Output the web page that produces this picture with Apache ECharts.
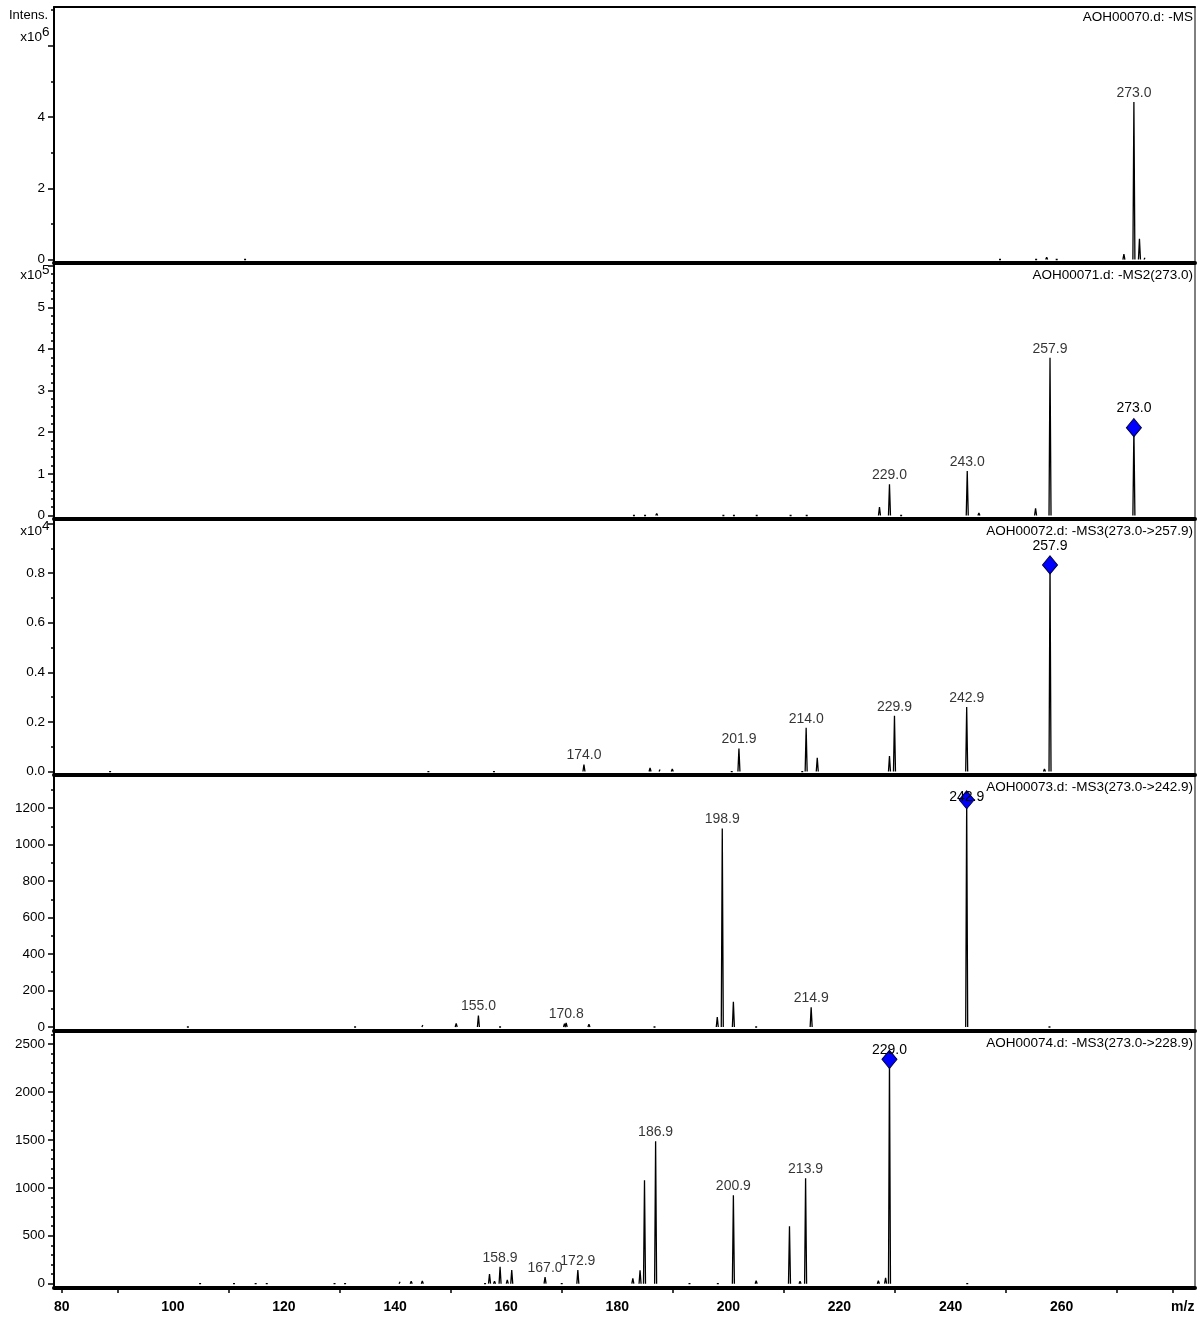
<!DOCTYPE html>
<html>
<head>
<meta charset="utf-8">
<script src="https://cdn.jsdelivr.net/npm/echarts@6/dist/echarts.min.js"></script>
<style>
  html, body { margin: 0; padding: 0; background: #fff; }
  #chart { width: 1200px; height: 1318px; }
</style>
</head>
<body>
<div id="chart"></div>
<script>
// ---- m/z axis ----
const mzRange = [78.6, 284.0];
const mzTickLabels = [80, 100, 120, 140, 160, 180, 200, 220, 240, 260, 280];
const mzTicks = [80, 90, 110, 130, 150, 170, 190, 210, 230, 250, 270, 280];

// ---- AOH00070.d: full scan -MS ----
const ms1Mz  = [113.0, 248.9, 255.4, 257.3, 259.1, 271.2, 273.0, 274.0, 275.0];
const ms1Int = [0.01e6, 0.02e6, 0.04e6, 0.06e6, 0.03e6, 0.15e6, 4.42e6, 0.58e6, 0.05e6];
const ms1Labeled = [273.0];
const ms1Precursor = null;

// ---- AOH00071.d: -MS2(273.0) ----
const ms2Mz  = [183.0, 185.0, 187.1, 199.1, 201.0, 205.1, 211.2, 214.1, 227.2, 229.0, 231.1, 243.0, 245.1, 255.3, 257.9, 273.0];
const ms2Int = [0.02e5, 0.04e5, 0.05e5, 0.02e5, 0.04e5, 0.02e5, 0.04e5, 0.03e5, 0.20e5, 0.75e5, 0.02e5, 1.07e5, 0.06e5, 0.17e5, 3.79e5, 2.11e5];
const ms2Labeled = [229.0, 243.0, 257.9];
const ms2Precursor = 273.0;

// ---- AOH00072.d: -MS3(273.0->257.9) ----
const ms3aMz  = [88.7, 146.0, 157.8, 174.0, 185.9, 187.7, 189.9, 200.6, 201.9, 213.3, 214.0, 216.0, 229.0, 229.9, 242.9, 256.9, 257.9];
const ms3aInt = [0.003e4, 0.003e4, 0.005e4, 0.028e4, 0.014e4, 0.008e4, 0.010e4, 0.004e4, 0.093e4, 0.006e4, 0.176e4, 0.055e4, 0.062e4, 0.225e4, 0.26e4, 0.01e4, 0.833e4];
const ms3aLabeled = [174.0, 201.9, 214.0, 229.9, 242.9];
const ms3aPrecursor = 257.9;

// ---- AOH00073.d: -MS3(273.0->242.9) ----
const ms3bMz  = [102.7, 132.8, 145.0, 151.0, 155.0, 158.9, 170.5, 170.8, 174.9, 186.7, 198.0, 198.9, 200.9, 205.0, 214.9, 242.9, 257.8];
const ms3bInt = [8, 5, 10, 20, 63, 8, 18, 22, 15, 8, 54, 1088, 138, 8, 108, 1245, 6];
const ms3bLabeled = [155.0, 170.8, 198.9, 214.9];
const ms3bPrecursor = 242.9;

// ---- AOH00074.d: -MS3(273.0->228.9) ----
const ms3cMz  = [104.9, 111.0, 114.9, 116.9, 129.1, 131.0, 140.9, 142.9, 144.9, 156.2, 157.0, 157.9, 158.9, 160.2, 161.0, 167.0, 170.0, 172.9, 182.8, 184.1, 184.9, 186.9, 193.0, 198.1, 200.9, 205.0, 211.0, 212.9, 213.9, 227.0, 228.3, 229.0, 243.0];
const ms3cInt = [8, 15, 18, 18, 18, 12, 20, 25, 28, 18, 100, 25, 175, 40, 141, 68, 15, 141, 55, 140, 1080, 1487, 10, 12, 922, 30, 600, 25, 1101, 30, 60, 2340, 12];
const ms3cLabeled = [158.9, 167.0, 172.9, 186.9, 200.9, 213.9];
const ms3cPrecursor = 229.0;

// ---- intensity axes (raw counts) ----
const yRanges      = [[-0.098e6, 7.09e6], [-0.084e5, 6.064e5], [-0.014e4, 1.018e4], [-22, 1381], [-45, 2636]];
const yTickLabels  = [
  [0, 2e6, 4e6],
  [0, 1e5, 2e5, 3e5, 4e5, 5e5],
  [0, 0.2e4, 0.4e4, 0.6e4, 0.8e4],
  [0, 200, 400, 600, 800, 1000, 1200],
  [0, 500, 1000, 1500, 2000, 2500]
];
const yMajorTicks  = [
  [0, 2e6, 4e6, 6e6],
  [0, 1e5, 2e5, 3e5, 4e5, 5e5, 6e5],
  [0, 0.2e4, 0.4e4, 0.6e4, 0.8e4, 1.0e4],
  [0, 200, 400, 600, 800, 1000, 1200],
  [0, 500, 1000, 1500, 2000, 2500]
];
const yMinorSteps  = [1e6, 0.2e5, 0.1e4, 100, 100];
const yExponents   = [6, 5, 4, 0, 0];
const titles = [
  'AOH00070.d: -MS',
  'AOH00071.d: -MS2(273.0)',
  'AOH00072.d: -MS3(273.0->257.9)',
  'AOH00073.d: -MS3(273.0->242.9)',
  'AOH00074.d: -MS3(273.0->228.9)'
];

const spectra = [
  { mz: ms1Mz,  inten: ms1Int,  labeled: ms1Labeled,  precursor: ms1Precursor },
  { mz: ms2Mz,  inten: ms2Int,  labeled: ms2Labeled,  precursor: ms2Precursor },
  { mz: ms3aMz, inten: ms3aInt, labeled: ms3aLabeled, precursor: ms3aPrecursor },
  { mz: ms3bMz, inten: ms3bInt, labeled: ms3bLabeled, precursor: ms3bPrecursor },
  { mz: ms3cMz, inten: ms3cInt, labeled: ms3cLabeled, precursor: ms3cPrecursor }
];

// ---- layout / style ----
const FONT = "'Liberation Sans', Arial, sans-serif";
const GRID_LEFT = 54, GRID_WIDTH = 1141;
const gridEdges = [7, 263, 519, 775, 1031, 1288];
const PEAK_HALF_WIDTH = 0.18;           // drawn width of a profile peak, in m/z
// label placement for precursor labels that would leave the panel
const precursorLabelOverride = [null, null, null, { position: 'inside', offset: [0, -3] }, { position: 'inside', offset: [0, -9] }];

function peakPath(mz, inten) {
  const pts = [];
  mz.forEach((m, i) => {
    pts.push([m - PEAK_HALF_WIDTH, 0], [m, inten[i]], [m + PEAK_HALF_WIDTH, 0], [m + PEAK_HALF_WIDTH, '-']);
  });
  return pts;
}
function minorTicks(range, step) {
  const out = [];
  const start = Math.ceil(range[0] / step);
  for (let k = start; k * step <= range[1]; k++) out.push(Math.round(k * step * 1000) / 1000);
  return out;
}
function yFormatter(i) {
  const e = yExponents[i];
  if (i === 2) return v => (v / Math.pow(10, e)).toFixed(1);
  return v => String(Math.round(v / Math.pow(10, e)));
}

const grids = [], xAxes = [], yAxes = [], series = [], graphics = [];

spectra.forEach((sp, i) => {
  const top = gridEdges[i], bottom = gridEdges[i + 1];
  grids.push({ left: GRID_LEFT, width: GRID_WIDTH, top: top, height: bottom - top,
               show: true, borderColor: '#000', borderWidth: 1, backgroundColor: 'transparent' });
  const last = i === spectra.length - 1;
  xAxes.push({
    type: 'value', gridIndex: i, min: mzRange[0], max: mzRange[1],
    axisLine: { show: true, onZero: false, lineStyle: { color: '#000', width: 4 } },
    axisTick: last ? { show: true, customValues: mzTicks, length: 5, lineStyle: { color: '#000', width: 1.5 } } : { show: false },
    axisLabel: last ? {
      show: true, customValues: mzTickLabels, margin: 12,
      color: '#000', fontSize: 14, fontWeight: 'bold', fontFamily: FONT,
      formatter: v => v === 280 ? '{u|m/z}' : String(v),
      rich: { u: { color: '#000', fontSize: 14, fontWeight: 'bold', fontFamily: FONT, padding: [0, 0, 0, 20] } }
    } : { show: false },
    splitLine: { show: false }
  });
  yAxes.push({
    type: 'value', gridIndex: i, position: 'left', min: yRanges[i][0], max: yRanges[i][1],
    axisLine: { show: true, onZero: false, lineStyle: { color: '#000', width: 2 } },
    axisTick: { show: true, customValues: yMajorTicks[i], length: 6, lineStyle: { color: '#000', width: 1.5 } },
    axisLabel: { show: true, customValues: yTickLabels[i], margin: 9, color: '#000', fontSize: 13.5, fontFamily: FONT,
                 formatter: yFormatter(i) },
    splitLine: { show: false }
  });
  yAxes.push({
    type: 'value', gridIndex: i, position: 'left', offset: 0, min: yRanges[i][0], max: yRanges[i][1],
    axisLine: { show: false, onZero: false },
    axisTick: { show: true, customValues: minorTicks(yRanges[i], yMinorSteps[i]), length: 3, lineStyle: { color: '#000', width: 1.5 } },
    axisLabel: { show: false },
    splitLine: { show: false }
  });

  series.push({
    type: 'line', xAxisIndex: i, yAxisIndex: 2 * i, data: peakPath(sp.mz, sp.inten),
    symbol: 'none', connectNulls: false, silent: true, animation: false,
    lineStyle: { color: '#000', width: 1.3 }, z: 2
  });

  const labelStyle = { color: '#000', fontSize: 14, fontFamily: FONT };
  series.push({
    type: 'scatter', xAxisIndex: i, yAxisIndex: 2 * i, symbolSize: 0, silent: true, animation: false,
    data: sp.labeled.map(m => [m, sp.inten[sp.mz.indexOf(m)]]),
    label: Object.assign({ show: true, position: 'top', distance: 2, formatter: p => p.value[0].toFixed(1) }, labelStyle),
    z: 3
  });
  if (sp.precursor !== null) {
    const item = { value: [sp.precursor, sp.inten[sp.mz.indexOf(sp.precursor)]] };
    if (precursorLabelOverride[i]) item.label = precursorLabelOverride[i];
    series.push({
      type: 'scatter', xAxisIndex: i, yAxisIndex: 2 * i, symbol: 'diamond', symbolSize: [15, 18],
      silent: true, animation: false,
      itemStyle: { color: '#0000ff', borderColor: '#000040', borderWidth: 1, opacity: 1 },
      label: Object.assign({ show: true, position: 'top', distance: 2.5, formatter: p => p.value[0].toFixed(1) }, labelStyle),
      data: [item], z: 4
    });
  }

  graphics.push({
    type: 'text', x: 1193, y: top + (i === 0 ? 10 : 12), z: 10,
    style: { text: titles[i], fill: '#000', font: '13.5px ' + FONT, align: 'right', verticalAlign: 'middle' }
  });
});

// top frame line of the first panel
xAxes.push({
  type: 'value', gridIndex: 0, position: 'top', min: mzRange[0], max: mzRange[1],
  axisLine: { show: true, onZero: false, lineStyle: { color: '#000', width: 2 } },
  axisTick: { show: false }, axisLabel: { show: false }, splitLine: { show: false }
});

// intensity unit and exponent labels
graphics.push({ type: 'text', x: 48, y: 15, style: { text: 'Intens.', fill: '#000', font: '13px ' + FONT, align: 'right', verticalAlign: 'middle' } });
const expCenters = [37, 275, 531];
expCenters.forEach((cy, i) => {
  graphics.push({ type: 'text', x: 42, y: cy, style: { text: 'x10', fill: '#000', font: '13.5px ' + FONT, align: 'right', verticalAlign: 'middle' } });
  graphics.push({ type: 'text', x: 42, y: cy - 5, style: { text: String(yExponents[i]), fill: '#000', font: '13.5px ' + FONT, align: 'left', verticalAlign: 'middle' } });
});

const chart = echarts.init(document.getElementById('chart'), null, { renderer: 'canvas' });
chart.setOption({
  backgroundColor: '#fff',
  animation: false,
  grid: grids,
  xAxis: xAxes,
  yAxis: yAxes,
  series: series,
  graphic: graphics
});
</script>
</body>
</html>
